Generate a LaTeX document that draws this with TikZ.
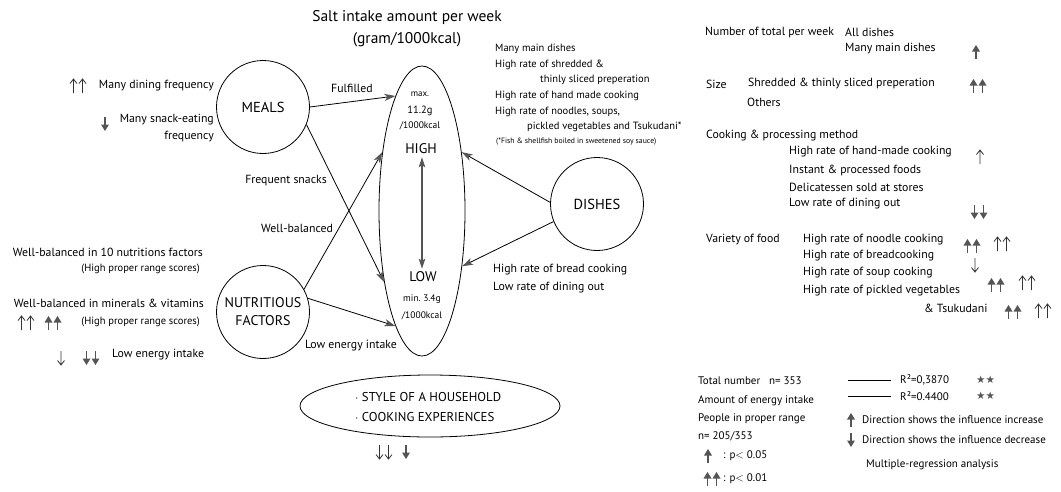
\documentclass[tikz,border=0pt]{standalone}
\usepackage{fontspec}
\setmainfont{PT Sans}
\newfontfamily\symfont{DejaVu Sans}
\usetikzlibrary{arrows.meta,shapes.geometric}
\definecolor{agray}{HTML}{555555}
\definecolor{ogray}{HTML}{333333}
\newcommand{\fsz}[1]{\fontsize{#1}{#1}\selectfont}
\begin{document}
\begin{tikzpicture}[x=1pt,y=-1pt,
  every node/.style={inner sep=0pt,font=\fsz{11.8}},
  lbl/.style={anchor=west},
  rlbl/.style={anchor=east},
  small/.style={font=\fsz{10.5}},
  legend/.style={font=\fsz{11}},
  tiny/.style={font=\fsz{7.7}},
  circ/.style={circle,draw,line width=0.8pt,minimum size=93pt,font=\fsz{14.5},align=center},
  link/.style={line width=0.8pt,-{Stealth[length=11pt,width=7pt,inset=3pt,color=agray]}},
  % arrow glyphs: filled (f) and open (o), up (u) or down (d)
  fu/.pic={\fill[agray] (0,-7) -- (-4,-0.5) -- (4,-0.5) -- cycle;
           \draw[agray,line width=1.3pt] (0,-1) -- (0,7);},
  fd/.pic={\fill[agray] (0,7) -- (-4,0.5) -- (4,0.5) -- cycle;
           \draw[agray,line width=1.3pt] (0,1) -- (0,-7);},
  ou/.pic={\draw[ogray,line width=0.8pt] (0,7) -- (0,-7) (-3.5,-2.5) -- (0,-7) -- (3.5,-2.5);},
  od/.pic={\draw[ogray,line width=0.8pt] (0,-7) -- (0,7) (-3.5,2.5) -- (0,7) -- (3.5,2.5);},
  fuu/.pic={\pic at (-4.5,0) {fu}; \pic at (4.5,0) {fu};},
  fdd/.pic={\pic at (-4.5,0) {fd}; \pic at (4.5,0) {fd};},
  ouu/.pic={\pic at (-4.5,0) {ou}; \pic at (4.5,0) {ou};},
  odd/.pic={\pic at (-4.5,0) {od}; \pic at (4.5,0) {od};}
]
\useasboundingbox[fill=white] (0,0) rectangle (1061,491);

% title
\node[font=\fsz{15.5}] (title1) at (407,18) {Salt intake amount per week};
\node[font=\fsz{15.5}] (title2) at (407,40) {(gram/1000kcal)};

% central salt range ellipse
\node[ellipse,draw,line width=0.8pt,minimum width=86pt,minimum height=290pt] (salt) at (422,211) {};
\node[font=\fsz{9}] (mx1) at (420,94) {max.};
\node[font=\fsz{10.5}] (mx2) at (420,111) {11.2g};
\node[font=\fsz{9.5}] (mx3) at (420,126) {/1000kcal};
\node[font=\fsz{14}] (high) at (421,149) {HIGH};
\node[font=\fsz{14}] (low) at (423,277) {LOW};
\node[font=\fsz{9.5}] (mn1) at (422,299) {min.\ 3.4g};
\node[font=\fsz{9.5}] (mn2) at (422,316) {/1000kcal};
\path (high.south) ++(1,3) coordinate (hs) (low.north) ++(-1,-3) coordinate (ln);
\draw[agray,line width=1.1pt,{Stealth[length=10pt,width=6.5pt,inset=2pt]}-{Stealth[length=10pt,width=6.5pt,inset=2pt]}] (hs) -- (ln);

% factor circles
\node[circ] (meals) at (263,107) {MEALS};
\node[circ,font=\fsz{14}] (nutri) at (263,312) {NUTRITIOUS\\[4pt]FACTORS};
\node[circ] (dishes) at (597,204) {DISHES};

% influence connectors
\draw[link] (meals.0) -- (salt.103);
\draw[link] (meals.-22) -- (salt.242);
\draw[link] (nutri.29) -- (salt.124);
\draw[link] (nutri.17) -- (salt.257);
\draw[link] (dishes.178) -- (salt.56);
\draw[link] (dishes.202) -- (salt.306);

\node (lfulfil) at (352,88) {Fulfilled};
\node (lsnack) at (286,181) {Frequent snacks};
\node (lbal) at (297,228) {Well-balanced};
\node (lenergy) at (351,346) {Low energy intake};

% meals details
\pic at (78,86) {ouu};
\node[rlbl] (m1) at (214,86) {Many dining frequency};
\pic at (105,124) {fd};
\node[rlbl] (m2) at (214,120) {Many snack-eating};
\node[rlbl] (m3) at (214,137) {frequency};

% nutrition details
\node[rlbl] (nf1) at (203,252) {Well-balanced in 10 nutritions factors};
\node[rlbl,small] (nf2) at (200,269) {(High proper range scores)};
\node[rlbl] (nf3) at (204,303) {Well-balanced in minerals \& vitamins};
\pic at (26,323) {ouu};
\pic at (53,323) {fuu};
\node[rlbl,small] (nf4) at (200,322) {(High proper range scores)};
\pic at (61,358) {od};
\pic at (91,358) {fdd};
\node[lbl] (nf5) at (112,355) {Low energy intake};

% dishes details
\node[lbl,small] (d1) at (495,49) {Many main dishes};
\node[lbl,small] (d2) at (495,65) {High rate of shredded \&};
\node[lbl,small] (d3) at (540,80) {thinly sliced preperation};
\node[lbl,small] (d4) at (495,96) {High rate of hand made cooking};
\node[lbl,small] (d5) at (495,112) {High rate of noodles, soups,};
\node[lbl,small] (d6) at (527,127) {pickled vegetables and Tsukudani*};
\node[lbl,tiny] (d7) at (496,142) {(*Fish \& shellfish boiled in sweetened soy sauce)};
\node[lbl] (d8) at (493,270) {High rate of bread cooking};
\node[lbl] (d9) at (493,288) {Low rate of dining out};

% household factors
\node[ellipse,draw,line width=0.8pt,minimum width=260pt,minimum height=62pt] (house) at (430,406) {};
\node[lbl,font=\fsz{12.8}] (h1) at (355,397) {$\cdot$ STYLE OF A HOUSEHOLD};
\node[lbl,font=\fsz{12.8}] (h2) at (355,417) {$\cdot$ COOKING EXPERIENCES};
\pic at (384,452) {odd};
\pic at (406,452) {fd};

% dish categories
\node[lbl] (n1) at (705,32) {Number of total per week};
\node[lbl] (n2) at (845,32) {All dishes};
\node[lbl] (n3) at (845,49) {Many main dishes};
\pic at (976,52) {fu};
\node[lbl] (s1) at (706,84) {Size};
\node[lbl] (s2) at (748,84) {Shredded \& thinly sliced preperation};
\pic at (978,86) {fuu};
\node[lbl] (s3) at (747,102) {Others};
\node[lbl] (c1) at (706,136) {Cooking \& processing method};
\node[lbl] (c2) at (789,152) {High rate of hand-made cooking};
\pic at (980,157) {ou};
\node[lbl] (c3) at (789,170) {Instant \& processed foods};
\node[lbl] (c4) at (789,187) {Delicatessen sold at stores};
\node[lbl] (c5) at (789,204) {Low rate of dining out};
\pic at (979,212) {fdd};
\node[lbl] (v1) at (706,240) {Variety of food};
\node[lbl] (v2) at (803,240) {High rate of noodle cooking};
\pic at (972,246) {fuu};
\pic at (1002,244) {ouu};
\node[lbl] (v3) at (803,256) {High rate of breadcooking};
\pic at (975,265) {od};
\node[lbl] (v4) at (803,273) {High rate of soup cooking};
\pic at (996,285) {fuu};
\pic at (1027,283) {ouu};
\node[lbl] (v5) at (803,291) {High rate of pickled vegetables};
\node[lbl] (v6) at (924,308) {\& Tsukudani};
\pic at (1013,312) {fuu};
\pic at (1043,311) {ouu};

% legend
\node[lbl,legend] (g1) at (698,381) {Total number\hspace{0.8em}n= 353};
\node[lbl,legend] (g2) at (698,401) {Amount of energy intake};
\node[lbl,legend] (g3) at (698,419) {People in proper range};
\node[lbl,legend] (g4) at (698,436) {n= 205/353};
\pic at (708,456) {fu};
\node[lbl,legend] (g5) at (723,456) {: p$<$ 0.05};
\pic at (712,479) {fuu};
\node[lbl,legend] (g6) at (723,479) {: p$<$ 0.01};
\coordinate (r1a) at (848,380);
\coordinate (r1b) at (891,380);
\draw[line width=0.7pt] (r1a) -- (r1b);
\node[lbl,legend] (r1) at (900,380) {R²=0,3870};
\node[lbl,font=\symfont\fsz{10.5},text=agray] (st1) at (976,380) {★★};
\coordinate (r2a) at (848,396);
\coordinate (r2b) at (891,396);
\draw[line width=0.7pt] (r2a) -- (r2b);
\node[lbl,legend] (r2) at (900,396) {R²=0.4400};
\node[lbl,font=\symfont\fsz{10.5},text=agray] (st2) at (976,396) {★★};
\pic at (851,420) {fu};
\node[lbl,legend] (g7) at (862,420) {Direction shows the influence increase};
\pic at (851,440) {fd};
\node[lbl,legend] (g8) at (862,440) {Direction shows the influence decrease};
\node[lbl,legend] (g9) at (866,465) {Multiple-regression analysis};
\end{tikzpicture}
\end{document}
